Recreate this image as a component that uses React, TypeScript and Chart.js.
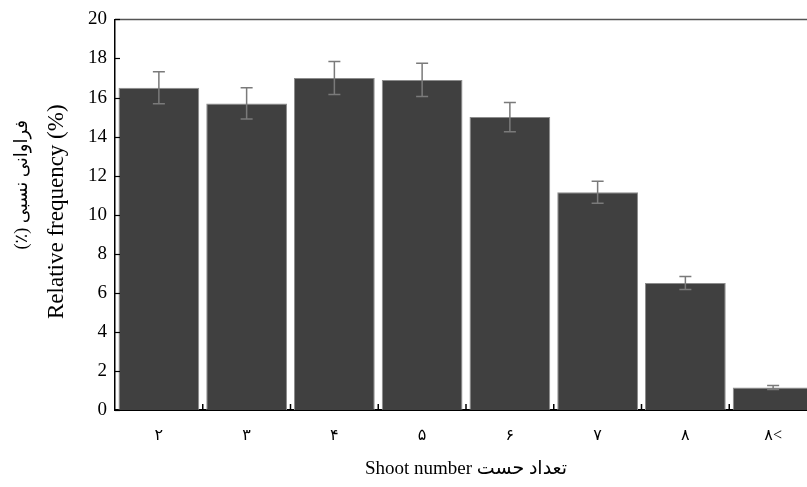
import React, { useEffect, useRef } from "react";
import { Chart, registerables } from "chart.js";

Chart.register(...registerables);

const categories = ["۲", "۳", "۴", "۵", "۶", "۷", "۸", "۸<"];
const values = [16.5, 15.7, 17.0, 16.9, 15.0, 11.15, 6.5, 1.15];
const errors = [0.82, 0.8, 0.85, 0.85, 0.75, 0.56, 0.33, 0.1];
const yMin = 0;
const yMax = 20;
const yStep = 2;
const yTitleEn = "Relative frequency (%)";
const yTitleFa = "فراوانی نسبی (٪)";
const xTitle = "Shoot number تعداد حست";

const SERIF = '"Liberation Serif", "Times New Roman", "DejaVu Serif", "DejaVu Sans", serif';

const decorPlugin = {
  id: "decor",
  afterDatasetsDraw(chart: any) {
    const ctx = chart.ctx;
    const x = chart.scales.x;
    const y = chart.scales.y;
    const area = chart.chartArea;
    const meta = chart.getDatasetMeta(0);
    ctx.save();
    ctx.strokeStyle = "#7a7a7a";
    ctx.lineWidth = 1.5;
    values.forEach((v, i) => {
      const bar = meta.data[i];
      if (!bar) return;
      const cx = bar.x;
      const yt = y.getPixelForValue(v + errors[i]);
      const yb = y.getPixelForValue(v - errors[i]);
      ctx.beginPath();
      ctx.moveTo(cx, yt);
      ctx.lineTo(cx, yb);
      ctx.moveTo(cx - 6, yt);
      ctx.lineTo(cx + 6, yt);
      ctx.moveTo(cx - 6, yb);
      ctx.lineTo(cx + 6, yb);
      ctx.stroke();
    });
    ctx.strokeStyle = "#555";
    ctx.lineWidth = 1.5;
    ctx.beginPath();
    ctx.moveTo(area.left, area.top);
    ctx.lineTo(area.right, area.top);
    ctx.stroke();
    ctx.strokeStyle = "#000";
    ctx.lineWidth = 1.2;
    y.ticks.forEach((t: any) => {
      const py = Math.round(y.getPixelForValue(t.value)) + 0.5;
      ctx.beginPath();
      ctx.moveTo(area.left, py);
      ctx.lineTo(area.left + 5, py);
      ctx.stroke();
    });
    ctx.lineWidth = 1.5;
    for (let i = 1; i < categories.length; i++) {
      const px = (x.getPixelForValue(i - 1) + x.getPixelForValue(i)) / 2;
      ctx.beginPath();
      ctx.moveTo(px, area.bottom);
      ctx.lineTo(px, area.bottom - 6);
      ctx.stroke();
    }
    ctx.restore();
  },
  afterDraw(chart: any) {
    const ctx = chart.ctx;
    const area = chart.chartArea;
    const cy = (area.top + area.bottom) / 2;
    ctx.save();
    ctx.fillStyle = "#000";
    ctx.textAlign = "center";
    ctx.textBaseline = "middle";
    ctx.translate(57, cy - 3);
    ctx.rotate(-Math.PI / 2);
    ctx.font = "23px " + SERIF;
    ctx.fillText(yTitleEn, 0, 0);
    ctx.restore();

    ctx.save();
    ctx.fillStyle = "#000";
    ctx.textAlign = "center";
    ctx.textBaseline = "middle";
    ctx.translate(22, cy - 30);
    ctx.rotate(-Math.PI / 2);
    ctx.direction = "rtl";
    ctx.font = "18px " + SERIF;
    ctx.fillText(yTitleFa, 0, 0);
    ctx.restore();
  },
};

export default function App() {
  const ref = useRef<HTMLCanvasElement | null>(null);
  useEffect(() => {
    if (!ref.current) return;
    const chart = new Chart(ref.current, {
      type: "bar",
      data: {
        labels: categories,
        datasets: [
          {
            data: values,
            backgroundColor: "#404040",
            borderColor: "#8c8c8c",
            borderWidth: 1,
            barPercentage: 0.92,
            categoryPercentage: 1,
          },
        ],
      },
      options: {
        responsive: false,
        animation: false,
        devicePixelRatio: 1,
        layout: { padding: { top: 17, right: 0, left: 0, bottom: 0 } },
        plugins: { legend: { display: false }, tooltip: { enabled: false } },
        scales: {
          x: {
            grid: { display: false, drawTicks: false },
            border: { display: true, color: "#000", width: 2 },
            ticks: { color: "#000", font: { family: SERIF, size: 16 }, padding: 16 },
            title: {
              display: true,
              text: xTitle,
              color: "#000",
              font: { family: SERIF, size: 19 },
              padding: { top: 8, bottom: 7 },
            },
            afterFit: (s: any) => {
              s.height = 77;
            },
          },
          y: {
            min: yMin,
            max: yMax,
            grid: { display: false, drawTicks: false },
            border: { display: true, color: "#000", width: 1.5 },
            ticks: { stepSize: yStep, color: "#000", font: { family: SERIF, size: 19 }, padding: 8 },
            afterFit: (s: any) => {
              s.width = 115;
            },
          },
        },
      },
      plugins: [decorPlugin],
    });
    return () => chart.destroy();
  }, []);
  return (
    <div style={{ position: "fixed", left: 0, top: 0, width: 807, height: 487, overflow: "hidden", background: "#fff" }}>
      <canvas ref={ref} width={817} height={487} style={{ display: "block" }} />
    </div>
  );
}
